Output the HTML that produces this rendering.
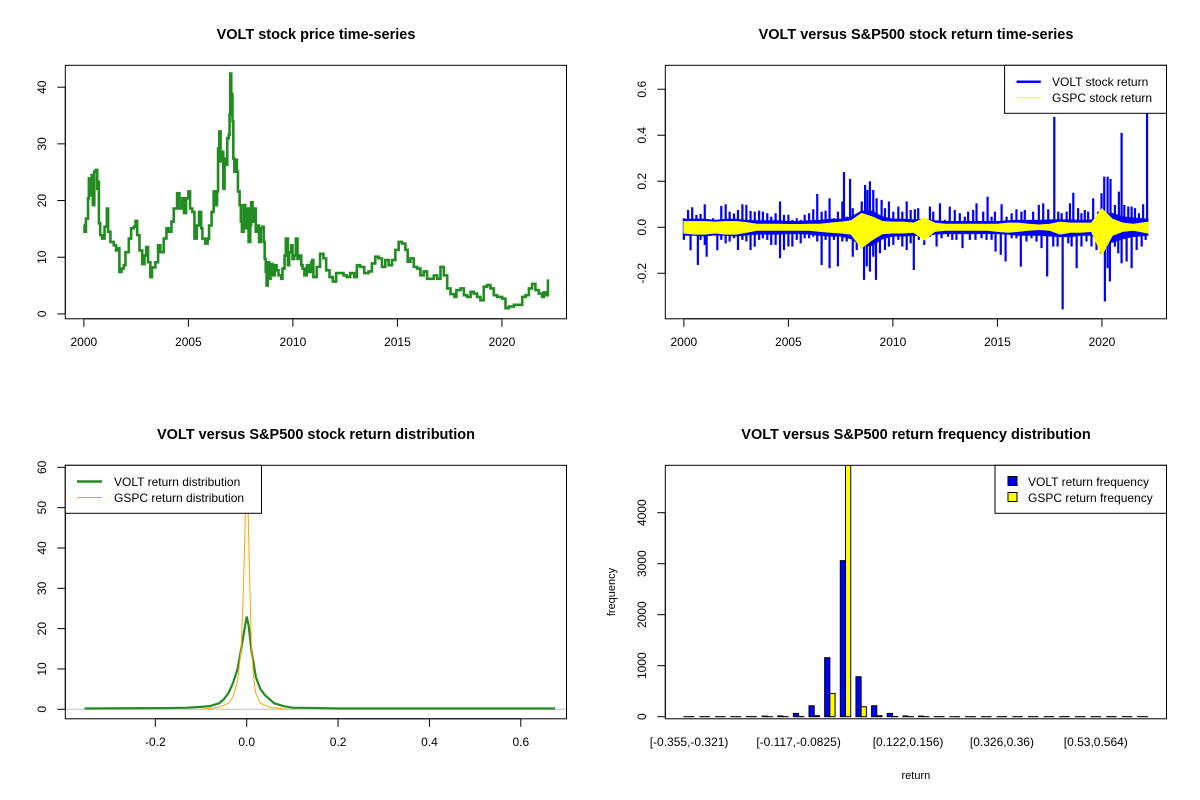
<!DOCTYPE html>
<html><head><meta charset="utf-8"><title>VOLT charts</title>
<style>
html,body{margin:0;padding:0;background:#fff;}
svg{display:block;font-family:"Liberation Sans",Arial,sans-serif;}
</style></head>
<body>
<svg id="root" width="1200" height="800" viewBox="0 0 1200 800" xmlns="http://www.w3.org/2000/svg">
<rect x="0" y="0" width="1200" height="800" fill="#fff"/>
<defs>
<clipPath id="c1"><rect x="65.3" y="65.3" width="501.2" height="253.5"/></clipPath>
<clipPath id="c2"><rect x="665.3" y="65.3" width="501.2" height="253.5"/></clipPath>
<clipPath id="c3"><rect x="65.3" y="465.3" width="501.2" height="253.5"/></clipPath>
<clipPath id="c4"><rect x="665.3" y="465.3" width="501.2" height="253.5"/></clipPath>
</defs>
<g id="p1"></g>
<g id="p2"></g>
<g id="p3"></g>
<g id="p4"></g>
</svg>
<script>
// ---- Panel 1 data: VOLT price ----
const priceYears=[2000.0,2000.03,2000.1,2000.2,2000.24,2000.32,2000.37,2000.43,2000.5,2000.57,2000.64,2000.7,2000.72,2000.78,2000.87,2000.99,2001.1,2001.16,2001.27,2001.43,2001.54,2001.64,2001.7,2001.8,2001.91,2001.99,2002.15,2002.26,2002.39,2002.47,2002.55,2002.66,2002.79,2002.9,2002.98,2003.07,2003.18,2003.26,2003.42,2003.55,2003.66,2003.82,2003.95,2004.06,2004.19,2004.3,2004.46,2004.57,2004.7,2004.79,2004.89,2005.0,2005.08,2005.19,2005.29,2005.4,2005.51,2005.61,2005.67,2005.8,2005.92,2005.99,2006.11,2006.21,2006.32,2006.37,2006.42,2006.48,2006.54,2006.61,2006.67,2006.73,2006.81,2006.86,2006.93,2006.97,2007.0,2007.05,2007.08,2007.11,2007.15,2007.2,2007.28,2007.32,2007.37,2007.45,2007.51,2007.56,2007.64,2007.72,2007.8,2007.88,2007.96,2008.0,2008.07,2008.15,2008.22,2008.31,2008.38,2008.46,2008.54,2008.6,2008.65,2008.7,2008.74,2008.8,2008.87,2008.93,2009.03,2009.13,2009.22,2009.31,2009.44,2009.5,2009.6,2009.66,2009.76,2009.82,2009.92,2009.98,2010.06,2010.14,2010.22,2010.3,2010.4,2010.46,2010.55,2010.67,2010.75,2010.87,2010.92,2010.98,2011.14,2011.3,2011.46,2011.59,2011.75,2011.91,2012.07,2012.26,2012.42,2012.58,2012.74,2012.93,2013.06,2013.21,2013.41,2013.62,2013.78,2013.94,2014.1,2014.26,2014.42,2014.58,2014.74,2014.9,2015.06,2015.22,2015.38,2015.49,2015.62,2015.78,2015.94,2016.1,2016.26,2016.42,2016.58,2016.74,2016.9,2017.06,2017.22,2017.38,2017.54,2017.73,2017.82,2018.02,2018.18,2018.33,2018.5,2018.65,2018.81,2018.97,2019.13,2019.29,2019.45,2019.61,2019.77,2020.01,2020.17,2020.33,2020.57,2020.81,2020.97,2021.13,2021.29,2021.44,2021.6,2021.76,2021.92,2022.0,2022.08,2022.16,2022.2];
const priceVals=[15.7,14.5,16.8,20.4,23.9,20.9,24.5,19.2,25.1,25.4,22.1,23.3,16,13.9,13.3,15.4,18.6,14.5,12.7,12.1,11.2,11.6,7.4,8,8.6,10.9,13.3,15.1,15.4,16.4,13.9,11.2,8.8,10.3,11.8,9.1,6.5,8.2,9.1,12.1,10.9,13.3,15.1,14.5,16.3,18.6,21.3,18.6,20.4,17.8,20.4,21.6,18.6,18,13.3,15.6,18,15.1,13.3,12.4,13.3,15.6,18,21.6,19.2,21.6,29.2,32.2,26.9,28.6,22.1,27.4,26.3,31,31.6,35.2,42.4,37,38.8,34,27.4,25.1,27.2,25.1,21.6,19.2,16.3,14.5,19.2,15.1,18.6,12.7,15.6,19.7,16.3,18.6,14.5,15.6,12.7,15.1,15.4,12.7,9.7,7.4,5,9.1,6.2,8.8,6.8,8.6,7.7,6.8,6.2,8,10.3,13.3,8.6,10.9,12.1,9.7,10.3,13.3,9.7,10.3,8.6,8,6.8,8.6,7.4,9.1,9.5,6.5,8.3,10.6,9.8,7.7,6.5,5.7,7.2,7.2,6.8,6.5,7.2,6.5,8.6,8.3,7.2,7.5,8.9,10.1,9.8,8.3,9.5,8.6,9.5,11.3,12.7,12.4,11.3,9.2,9.8,8.3,8,6.8,7.5,6.2,6.2,6.8,6.2,8.3,6.8,4.5,3.5,3,4.2,4.5,3.3,3,3.9,3.6,3,2.4,4.8,5.1,4.5,3.3,3,2.7,1,1.3,1.6,1.6,3,3.3,4.5,5.3,4.2,3.6,3,3.8,3.3,3.3,6.1];
const priceYTicks=[0,10,20,30,40];
const yearTicks=[2000,2005,2010,2015,2020];

// ---- Panel 2 data: returns ----
const bandYears=[2000,2000.5,2001,2001.5,2002,2002.5,2003,2003.5,2004,2004.5,2005,2005.5,2006,2006.5,2007,2007.5,2008,2008.5,2009,2009.5,2010,2010.5,2011,2011.5,2012,2012.5,2013,2013.5,2014,2014.5,2015,2015.5,2016,2016.5,2017,2017.5,2018,2018.5,2019,2019.5,2020,2020.5,2021,2021.5,2022.2];
const voltBandUp=[0.035,0.035,0.035,0.03,0.035,0.035,0.03,0.028,0.028,0.028,0.025,0.025,0.028,0.03,0.035,0.035,0.045,0.07,0.07,0.045,0.035,0.035,0.032,0.035,0.028,0.025,0.025,0.025,0.025,0.025,0.025,0.028,0.03,0.03,0.03,0.032,0.032,0.032,0.03,0.032,0.055,0.06,0.045,0.04,0.035];
const voltBandDown=[-0.035,-0.035,-0.038,-0.033,-0.035,-0.038,-0.033,-0.03,-0.03,-0.03,-0.028,-0.028,-0.03,-0.035,-0.038,-0.038,-0.05,-0.08,-0.08,-0.05,-0.038,-0.038,-0.035,-0.04,-0.03,-0.028,-0.028,-0.028,-0.028,-0.028,-0.028,-0.03,-0.035,-0.035,-0.035,-0.038,-0.04,-0.04,-0.035,-0.035,-0.065,-0.065,-0.05,-0.04,-0.035];
const gspcBandUp=[0.025,0.025,0.025,0.022,0.025,0.025,0.02,0.013,0.013,0.013,0.012,0.012,0.013,0.013,0.018,0.022,0.028,0.06,0.045,0.025,0.022,0.022,0.018,0.04,0.018,0.013,0.013,0.013,0.013,0.013,0.013,0.018,0.018,0.013,0.01,0.013,0.022,0.018,0.018,0.018,0.08,0.035,0.018,0.013,0.022];
const gspcBandDown=[-0.025,-0.03,-0.03,-0.025,-0.03,-0.03,-0.022,-0.013,-0.013,-0.013,-0.013,-0.013,-0.013,-0.018,-0.022,-0.025,-0.03,-0.09,-0.055,-0.028,-0.025,-0.025,-0.022,-0.055,-0.018,-0.013,-0.013,-0.013,-0.013,-0.013,-0.018,-0.022,-0.018,-0.013,-0.01,-0.013,-0.03,-0.022,-0.022,-0.018,-0.12,-0.035,-0.018,-0.013,-0.025];
const upYears=[2000.0,2000.2,2000.4,2000.6,2000.8,2001.0,2001.2,2001.4,2001.6,2001.79,2002.0,2002.19,2002.4,2002.59,2002.8,2002.99,2003.19,2003.39,2003.6,2003.78,2003.99,2004.18,2004.39,2004.6,2004.79,2005.0,2005.19,2005.4,2005.59,2005.78,2005.99,2006.19,2006.38,2006.59,2006.78,2006.97,2007.18,2007.37,2007.58,2007.66,2007.79,2007.95,2008.08,2008.27,2008.51,2008.67,2008.78,2008.9,2009.06,2009.22,2009.46,2009.62,2009.81,2010.02,2010.26,2010.45,2010.66,2010.85,2011.05,2011.21,2011.4,2011.77,2011.93,2012.25,2012.49,2012.72,2012.96,2013.2,2013.44,2013.6,2013.84,2014.0,2014.32,2014.53,2014.72,2014.88,2015.2,2015.44,2015.68,2015.91,2016.15,2016.31,2016.71,2016.98,2017.19,2017.43,2017.72,2017.91,2018.07,2018.31,2018.47,2018.63,2018.86,2019.02,2019.18,2019.34,2019.58,2019.82,2019.98,2020.11,2020.27,2020.41,2020.62,2020.81,2020.94,2021.07,2021.26,2021.42,2021.58,2021.77,2021.97,2022.16];
const upVals=[0.039,0.075,0.087,0.054,0.058,0.10,0.025,0.039,0.032,0.093,0.10,0.068,0.06,0.075,0.10,0.097,0.071,0.068,0.072,0.068,0.061,0.046,0.061,0.112,0.054,0.054,0.032,0.039,0.032,0.054,0.061,0.078,0.145,0.068,0.072,0.126,0.039,0.068,0.112,0.24,0.046,0.21,0.083,0.054,0.112,0.184,0.162,0.20,0.162,0.126,0.119,0.083,0.112,0.068,0.09,0.068,0.112,0.075,0.078,0.083,0.032,0.09,0.068,0.104,0.032,0.09,0.075,0.061,0.046,0.068,0.075,0.104,0.068,0.133,0.046,0.068,0.10,0.046,0.061,0.078,0.068,0.075,0.068,0.097,0.104,0.078,0.48,0.068,0.061,0.068,0.104,0.15,0.083,0.061,0.075,0.068,0.126,0.068,0.148,0.22,0.22,0.21,0.097,0.155,0.41,0.097,0.09,0.09,0.083,0.061,0.10,0.65];
const downYears=[2000.0,2000.32,2000.67,2000.8,2001.0,2001.09,2001.4,2001.6,2001.79,2002.0,2002.19,2002.4,2002.59,2002.8,2002.99,2003.19,2003.39,2003.6,2003.78,2003.99,2004.18,2004.39,2004.6,2004.79,2005.0,2005.19,2005.4,2005.59,2005.78,2005.99,2006.19,2006.38,2006.59,2006.78,2006.97,2007.18,2007.37,2007.58,2007.79,2008.08,2008.27,2008.51,2008.62,2008.75,2008.9,2009.06,2009.19,2009.38,2009.62,2009.81,2010.02,2010.26,2010.45,2010.66,2010.85,2011.0,2011.24,2011.5,2011.77,2012.09,2012.33,2012.64,2012.84,2013.04,2013.33,2013.68,2013.95,2014.24,2014.48,2014.72,2014.91,2015.16,2015.39,2015.68,2015.91,2016.12,2016.39,2016.63,2016.87,2017.11,2017.38,2017.67,2017.88,2018.12,2018.39,2018.55,2018.79,2019.02,2019.26,2019.5,2019.74,2019.95,2020.14,2020.27,2020.38,2020.62,2020.78,2020.94,2021.18,2021.42,2021.66,2021.9,2022.09];
const downVals=[-0.055,-0.10,-0.164,-0.055,-0.077,-0.128,-0.033,-0.1,-0.055,-0.07,-0.062,-0.048,-0.099,-0.055,-0.062,-0.099,-0.084,-0.055,-0.048,-0.055,-0.077,-0.077,-0.135,-0.099,-0.084,-0.084,-0.055,-0.07,-0.048,-0.048,-0.041,-0.062,-0.164,-0.055,-0.178,-0.055,-0.17,-0.062,-0.062,-0.128,-0.099,-0.091,-0.229,-0.17,-0.193,-0.128,-0.229,-0.113,-0.099,-0.084,-0.077,-0.055,-0.084,-0.099,-0.07,-0.186,-0.055,-0.077,-0.041,-0.084,-0.048,-0.041,-0.055,-0.055,-0.091,-0.055,-0.055,-0.048,-0.055,-0.055,-0.106,-0.12,-0.149,-0.048,-0.048,-0.171,-0.062,-0.048,-0.062,-0.091,-0.214,-0.084,-0.084,-0.357,-0.07,-0.084,-0.178,-0.084,-0.062,-0.084,-0.099,-0.113,-0.323,-0.178,-0.236,-0.084,-0.113,-0.157,-0.149,-0.178,-0.099,-0.084,-0.055];
const retYTicks=[-0.2,0,0.2,0.4,0.6];
const retYLabels=["-0.2","0.0","0.2","0.4","0.6"];

// ---- Panel 3 data: densities ----
const voltDensX=[-0.355,-0.17,-0.13,-0.1,-0.08,-0.06,-0.05,-0.04,-0.03,-0.02,-0.012,-0.006,0,0.004,0.01,0.02,0.03,0.04,0.05,0.06,0.08,0.1,0.16,0.2,0.675];
const voltDensY=[0.2,0.3,0.4,0.6,0.8,1.5,2.5,4,6.5,10,15,19,23,21,15,8,5,3.5,2.5,1.5,0.8,0.4,0.3,0.2,0.2];
const gspcDensX=[-0.1,-0.06,-0.04,-0.03,-0.02,-0.012,-0.007,-0.003,0,0.003,0.006,0.01,0.015,0.02,0.03,0.05,0.09];
const gspcDensY=[0,0.5,1.5,3,7,15,30,48,62,50,35,17,8,4,1.5,0.5,0];
const densXTicks=[-0.2,0,0.2,0.4,0.6];
const densXLabels=["-0.2","0.0","0.2","0.4","0.6"];
const densYTicks=[0,10,20,30,40,50,60];

// ---- Panel 4 data: frequency bars ----
const binLabels=["[-0.355,-0.321)","[-0.321,-0.287)","[-0.287,-0.253)","[-0.253,-0.219)","[-0.219,-0.185)","[-0.185,-0.151)","[-0.151,-0.117)","[-0.117,-0.0825)","[-0.0825,-0.0485)","[-0.0485,-0.0145)","[-0.0145,0.0195)","[0.0195,0.0535)","[0.0535,0.0875)","[0.0875,0.122)","[0.122,0.156)","[0.156,0.19)","[0.19,0.224)","[0.224,0.258)","[0.258,0.292)","[0.292,0.326)","[0.326,0.36)","[0.36,0.394)","[0.394,0.428)","[0.428,0.462)","[0.462,0.496)","[0.496,0.53)","[0.53,0.564)","[0.564,0.598)","[0.598,0.632)","[0.632,0.666)"];
const voltFreq=[1,0,0,1,2,12,15,65,215,1157,3060,784,215,65,15,12,3,1,1,0,0,0,0,0,0,0,0,0,0,1];
const gspcFreq=[0,0,0,0,0,1,2,5,20,457,5300,196,20,5,2,1,0,0,0,0,0,0,0,0,0,0,0,0,0,0];
const freqYTicks=[0,1000,2000,3000,4000];
const shownLabelIdx=[0,7,14,20,26];

const NS="http://www.w3.org/2000/svg";
function mk(parent,tag,attrs,txt){const e=document.createElementNS(NS,tag);for(const k in attrs)e.setAttribute(k,attrs[k]);if(txt!==undefined)e.textContent=txt;parent.appendChild(e);return e;}
function lin(d0,d1,r0,r1){return v=>r0+(v-d0)*(r1-r0)/(d1-d0);}

function frame(g,ox,oy,title){
  const b=mk(g,'rect',{x:ox+65.3,y:oy+65.3,width:501.2,height:253.5,fill:'none',stroke:'#000','stroke-width':1});
  
  
  const t=mk(g,'text',{x:ox+316,y:oy+39,'text-anchor':'middle','font-size':'14.5px','font-weight':'bold'},title);
  
  
}
function xAxis(g,oy,ticks,labels,sx){
  for(let i=0;i<ticks.length;i++){
    const x=sx(ticks[i]);
    mk(g,'line',{x1:x,x2:x,y1:oy+318.8,y2:oy+326.8,stroke:'#000'});
    const t=mk(g,'text',{x:x,y:oy+346,'text-anchor':'middle','font-size':'12px'},labels[i]);
    
    
  }
  mk(g,'line',{x1:sx(ticks[0]),x2:sx(ticks[ticks.length-1]),y1:oy+318.8,y2:oy+318.8,stroke:'#000'});
}
function yAxis(g,ox,ticks,labels,sy){
  for(let i=0;i<ticks.length;i++){
    const y=sy(ticks[i]);
    mk(g,'line',{x1:ox+57.3,x2:ox+65.3,y1:y,y2:y,stroke:'#000'});
    const t=mk(g,'text',{x:ox+46,y:y,'text-anchor':'middle','font-size':'12px',transform:`rotate(-90 ${ox+46} ${y})`},labels[i]);
    
    
  }
  mk(g,'line',{x1:ox+65.3,x2:ox+65.3,y1:sy(ticks[0]),y2:sy(ticks[ticks.length-1]),stroke:'#000'});
}
function pathD(xs,ys,sx,sy){return xs.map((v,i)=>(i?'L':'M')+sx(v).toFixed(2)+','+sy(ys[i]).toFixed(2)).join('');}
function stepD(xs,ys,sx,sy){let d='M'+sx(xs[0]).toFixed(2)+','+sy(ys[0]).toFixed(2);for(let i=1;i<xs.length;i++){d+='H'+sx(xs[i]).toFixed(2)+'V'+sy(ys[i]).toFixed(2);}return d;}

// Panel 1
(function(){
  const g=document.getElementById('p1');
  const sx=lin(1999.112,2023.088,65.3,566.5), sy=lin(-0.86,43.86,318.8,65.3);
  const cg=mk(g,'g',{'clip-path':'url(#c1)'});
  const p=mk(cg,'path',{d:stepD(priceYears,priceVals,sx,sy),fill:'none',stroke:'#228B22','stroke-width':2.6,'stroke-linejoin':'miter'});
  
  
  xAxis(g,0,yearTicks,yearTicks.map(String),sx);
  yAxis(g,0,priceYTicks,priceYTicks.map(String),sy);
  frame(g,0,0,'VOLT stock price time-series');
})();

// Panel 2
(function(){
  const g=document.getElementById('p2');
  const sx=lin(1999.112,2023.088,665.3,1166.5), sy=lin(-0.398,0.704,318.8,65.3);
  const cg=mk(g,'g',{'clip-path':'url(#c2)'});
  const up=bandYears.map((y,i)=>sx(y)+','+sy(voltBandUp[i]));
  const dn=bandYears.map((y,i)=>sx(y)+','+sy(voltBandDown[i])).reverse();
  const vb=mk(cg,'polygon',{points:up.concat(dn).join(' '),fill:'#0000FF',stroke:'#0000FF','stroke-width':1});
  
  
  for(let i=0;i<upYears.length;i++){
    const s=mk(cg,'line',{x1:sx(upYears[i]),x2:sx(upYears[i]),y1:sy(0),y2:sy(upVals[i]),stroke:'#0000FF','stroke-width':2.2});
    
    
  }
  for(let i=0;i<downYears.length;i++){
    const s=mk(cg,'line',{x1:sx(downYears[i]),x2:sx(downYears[i]),y1:sy(0),y2:sy(downVals[i]),stroke:'#0000FF','stroke-width':2.2});
    
    
  }
  const gu=bandYears.map((y,i)=>sx(y)+','+sy(gspcBandUp[i]));
  const gd=bandYears.map((y,i)=>sx(y)+','+sy(gspcBandDown[i])).reverse();
  const gb=mk(cg,'polygon',{points:gu.concat(gd).join(' '),fill:'#FFFF00',stroke:'#FFFF00','stroke-width':1});
  
  
  xAxis(g,0,yearTicks,yearTicks.map(String),sx);
  yAxis(g,600,retYTicks,retYLabels,sy);
  frame(g,600,0,'VOLT versus S&P500 stock return time-series');
  const lg=mk(g,'g',{});
  
  
  mk(lg,'rect',{x:1004.6,y:65.3,width:161.9,height:48,fill:'#fff',stroke:'#000'});
  mk(lg,'line',{x1:1016.5,x2:1040.8,y1:81.7,y2:81.7,stroke:'#0000FF','stroke-width':2.5});
  mk(lg,'line',{x1:1016.5,x2:1040.8,y1:97.7,y2:97.7,stroke:'#FFFF00','stroke-width':1});
  mk(lg,'text',{x:1052,y:86,'font-size':'12px'},'VOLT stock return');
  mk(lg,'text',{x:1052,y:102,'font-size':'12px'},'GSPC stock return');
})();

// Panel 3
(function(){
  const g=document.getElementById('p3');
  const sx=lin(-0.397,0.7,65.3,566.5), sy=lin(-2.36,60.5,718.8,465.3);
  const cg=mk(g,'g',{'clip-path':'url(#c3)'});
  mk(cg,'line',{x1:65.3,x2:566.5,y1:sy(0),y2:sy(0),stroke:'#BEBEBE','stroke-width':1});
  const v=mk(cg,'path',{d:pathD(voltDensX,voltDensY,sx,sy),fill:'none',stroke:'#228B22','stroke-width':2.2});
  
  
  const o=mk(cg,'path',{d:pathD(gspcDensX,gspcDensY,sx,sy),fill:'none',stroke:'#FFA500','stroke-width':1});
  
  
  xAxis(g,400,densXTicks,densXLabels,sx);
  yAxis(g,0,densYTicks,densYTicks.map(String),sy);
  frame(g,0,400,'VOLT versus S&P500 stock return distribution');
  const lg=mk(g,'g',{});
  
  
  mk(lg,'rect',{x:65.3,y:465.3,width:196.2,height:48,fill:'#fff',stroke:'#000'});
  mk(lg,'line',{x1:77,x2:102,y1:481.5,y2:481.5,stroke:'#228B22','stroke-width':2.5});
  mk(lg,'line',{x1:77,x2:102,y1:497.5,y2:497.5,stroke:'#FFA500','stroke-width':1});
  mk(lg,'text',{x:114,y:486,'font-size':'12px'},'VOLT return distribution');
  mk(lg,'text',{x:114,y:502,'font-size':'12px'},'GSPC return distribution');
})();

// Panel 4
(function(){
  const g=document.getElementById('p4');
  const n=binLabels.length;
  const umax=3*n;
  const su=lin(-0.04*(umax-1)+1,umax+0.04*(umax-1),665.3,1166.5);
  const sy=lin(-41,4929,718.8,465.3);
  const cg=mk(g,'g',{'clip-path':'url(#c4)'});
  function bar(u,v,fill,name){
    const x=su(u), w=su(u+1)-su(u);
    if(v>0){
      const r=mk(cg,'rect',{x:x,y:sy(v),width:w,height:sy(0)-sy(v),fill:fill,stroke:'#000','stroke-width':1});
      
      
    } else {
      const l=mk(cg,'line',{x1:x,x2:x+w,y1:sy(0),y2:sy(0),stroke:'#000','stroke-width':1.2});
      
      
    }
  }
  for(let i=0;i<n;i++){
    bar(3*i+1,voltFreq[i],'#0000FF','volt-frequency-bar');
    bar(3*i+2,gspcFreq[i],'#FFFF00','gspc-frequency-bar');
  }
  for(const i of shownLabelIdx){
    const t=mk(g,'text',{x:su(3*i+2),y:746,'text-anchor':'middle','font-size':'12px'},binLabels[i]);
    
    
  }
  yAxis(g,600,freqYTicks,freqYTicks.map(String),sy);
  frame(g,600,400,'VOLT versus S&P500 return frequency distribution');
  const xl=mk(g,'text',{x:915.9,y:779,'text-anchor':'middle','font-size':'11px'},'return');
  
  
  const yl=mk(g,'text',{x:615,y:592,'text-anchor':'middle','font-size':'11px',transform:'rotate(-90 615 592)'},'frequency');
  
  
  const lg=mk(g,'g',{});
  
  
  mk(lg,'rect',{x:995,y:465.3,width:171.5,height:48,fill:'#fff',stroke:'#000'});
  mk(lg,'rect',{x:1008,y:476.5,width:9,height:9,fill:'#0000FF',stroke:'#000'});
  mk(lg,'rect',{x:1008,y:492.5,width:9,height:9,fill:'#FFFF00',stroke:'#000'});
  mk(lg,'text',{x:1028,y:486,'font-size':'12px'},'VOLT return frequency');
  mk(lg,'text',{x:1028,y:502,'font-size':'12px'},'GSPC return frequency');
})();
</script>
</body></html>
